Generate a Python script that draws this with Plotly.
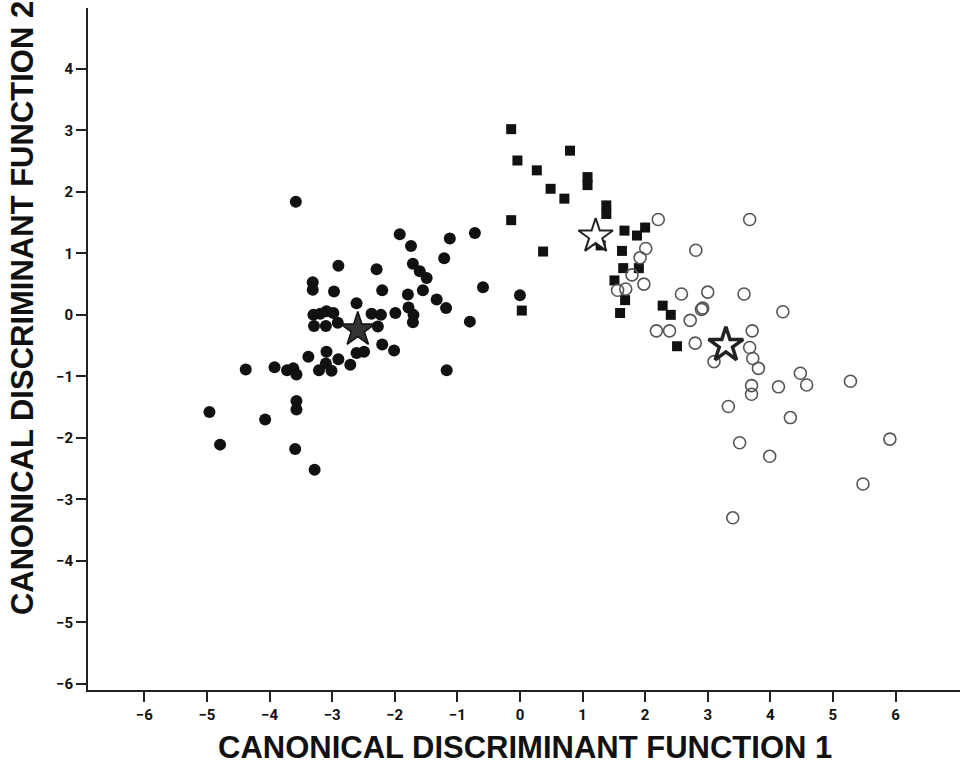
import plotly.graph_objects as go

# Group 1: filled circles
g1_x = [-3.58, -2.90, -2.29, -3.31, -3.31, -2.97, -2.61, -2.20, -3.30, -3.19, -3.09, -2.98,
        -2.37, -2.22, -3.29, -3.10, -2.91, -2.27, -2.20, -2.61, -2.49, -3.09, -3.38, -2.90,
        -2.71, -3.10, -3.21, -3.01, -4.38, -3.92, -3.72, -3.62, -3.57, -4.96, -4.07, -3.57,
        -3.57, -4.79, -3.59, -3.28, -1.92, -1.12, -0.72, -1.74, -1.21, -1.71, -1.60, -1.49,
        -1.79, -1.55, -0.59, 0.00, -1.33, -1.18, -1.78, -1.70, -1.71, -0.80, -1.99, -2.01, -1.17]
g1_y = [1.84, 0.80, 0.74, 0.53, 0.41, 0.38, 0.19, 0.40, 0.00, 0.02, 0.06, 0.03,
        0.02, 0.00, -0.18, -0.18, -0.13, -0.19, -0.48, -0.62, -0.60, -0.60, -0.68, -0.72,
        -0.81, -0.79, -0.90, -0.91, -0.89, -0.85, -0.90, -0.87, -0.97, -1.58, -1.70, -1.40,
        -1.54, -2.11, -2.18, -2.52, 1.31, 1.24, 1.33, 1.12, 0.92, 0.83, 0.71, 0.60,
        0.33, 0.40, 0.45, 0.32, 0.25, 0.11, 0.12, 0.00, -0.12, -0.11, 0.03, -0.58, -0.90]

# Group 2: filled squares
g2_x = [-0.14, 0.80, -0.04, 0.27, 0.49, 0.71, 1.08, 1.08, 1.38, 1.38, -0.14, 0.37, 0.03,
        1.19, 1.29, 1.67, 2.00, 1.87, 1.63, 1.65, 1.90, 1.51, 1.68, 1.60, 2.28, 2.41, 2.51]
g2_y = [3.02, 2.67, 2.51, 2.35, 2.05, 1.89, 2.24, 2.11, 1.78, 1.64, 1.54, 1.03, 0.07,
        1.21, 1.13, 1.37, 1.42, 1.29, 1.04, 0.76, 0.76, 0.56, 0.24, 0.03, 0.15, 0.00, -0.51]

# Group 3: open circles
g3_x = [2.21, 3.67, 2.81, 2.01, 1.92, 1.79, 1.56, 1.69, 1.98, 2.58, 3.00, 3.58, 2.90, 2.92,
        4.20, 2.72, 2.18, 2.39, 2.80, 3.71, 3.67, 3.72, 3.81, 3.10, 4.48, 4.58, 4.13, 5.28,
        3.70, 3.70, 3.33, 4.32, 3.51, 3.99, 5.91, 5.48, 3.40]
g3_y = [1.55, 1.55, 1.05, 1.08, 0.93, 0.65, 0.40, 0.42, 0.50, 0.34, 0.37, 0.34, 0.09, 0.11,
        0.05, -0.09, -0.26, -0.26, -0.46, -0.26, -0.53, -0.71, -0.87, -0.76, -0.95, -1.14, -1.17, -1.08,
        -1.15, -1.29, -1.49, -1.67, -2.08, -2.30, -2.02, -2.75, -3.30]

# Group centroids
c_x = [-2.59, 1.21, 3.29]
c_y = [-0.24, 1.28, -0.49]

x_ticks = [-6, -5, -4, -3, -2, -1, 0, 1, 2, 3, 4, 5, 6]
y_ticks = [4, 3, 2, 1, 0, -1, -2, -3, -4, -5, -6]

x_title = "CANONICAL DISCRIMINANT FUNCTION 1"
y_title = "CANONICAL DISCRIMINANT FUNCTION 2"

fig = go.Figure()
fig.add_trace(go.Scatter(x=g1_x, y=g1_y, mode="markers",
                         marker=dict(symbol="circle", size=12, color="#111111",
                                     line=dict(width=0))))
fig.add_trace(go.Scatter(x=g2_x, y=g2_y, mode="markers",
                         marker=dict(symbol="square", size=10, color="#111111",
                                     line=dict(width=0))))
fig.add_trace(go.Scatter(x=g3_x, y=g3_y, mode="markers",
                         marker=dict(symbol="circle-open", size=12, color="#555555",
                                     line=dict(width=1.6))))
fig.add_trace(go.Scatter(x=[c_x[0]], y=[c_y[0]], mode="markers",
                         marker=dict(symbol="star", size=26, color="#333333",
                                     line=dict(width=1.5, color="#111111"))))
fig.add_trace(go.Scatter(x=[c_x[1]], y=[c_y[1]], mode="markers",
                         marker=dict(symbol="star", size=26, color="white",
                                     line=dict(width=2, color="#222222"))))
fig.add_trace(go.Scatter(x=[c_x[2]], y=[c_y[2]], mode="markers",
                         marker=dict(symbol="star", size=26, color="white",
                                     line=dict(width=3.5, color="#222222"))))

tickfont = dict(family="Roboto, Liberation Sans, sans-serif", size=15, color="#111111", weight="bold")
titlefont = dict(family="Liberation Sans, Arial, sans-serif", size=31, color="#111111", weight="bold")

fig.update_layout(
    width=960, height=769,
    margin=dict(l=88, r=0, t=8, b=79),
    paper_bgcolor="white", plot_bgcolor="white",
    showlegend=False,
    xaxis=dict(range=[-6.90, 7.03], tickvals=x_ticks, ticktext=["\u2212" + str(-v) if v < 0 else str(v) for v in x_ticks],
               showgrid=False, zeroline=False, showline=True, linecolor="#222222", linewidth=2,
               ticks="outside", ticklen=10, tickwidth=1.5, tickcolor="#222222", tickfont=tickfont),
    yaxis=dict(range=[-6.10, 4.99], tickvals=y_ticks, ticktext=["\u2212" + str(-v) if v < 0 else str(v) for v in y_ticks],
               showgrid=False, zeroline=False, showline=True, linecolor="#222222", linewidth=2,
               ticks="outside", ticklen=10, tickwidth=1.5, tickcolor="#222222", tickfont=tickfont),
    annotations=[
        dict(text=x_title, xref="paper", yref="paper", x=0.501, y=-0.085,
             xanchor="center", yanchor="middle", showarrow=False, font=titlefont),
        dict(text=y_title, xref="paper", yref="paper", x=-0.0757, y=0.56,
             xanchor="center", yanchor="middle", showarrow=False, textangle=-90, font=titlefont),
    ],
)

fig.write_html("out.html")
